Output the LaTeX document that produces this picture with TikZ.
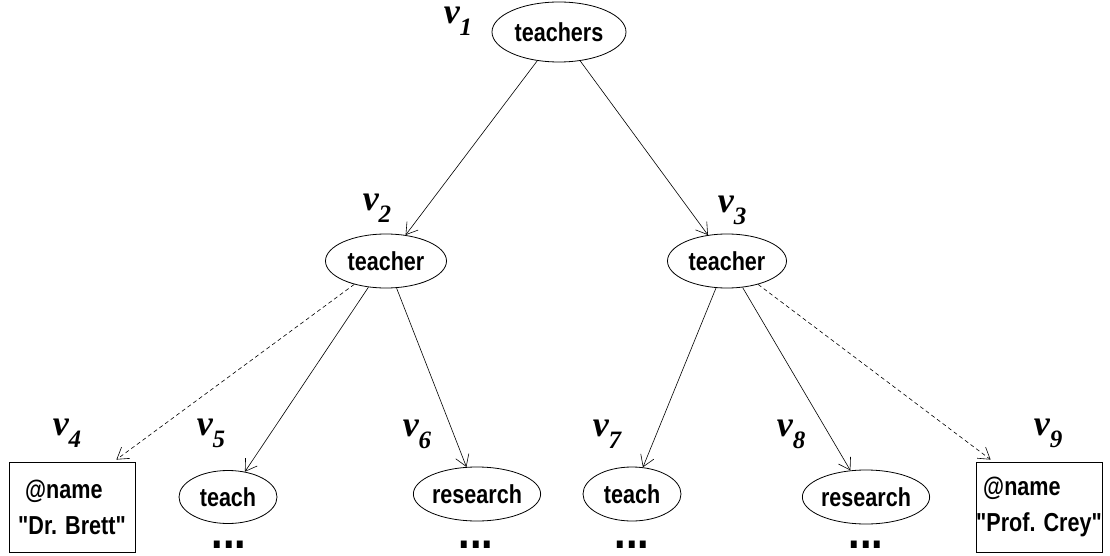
\documentclass[tikz,border=0pt]{standalone}
\usepackage{fontspec}
\setmainfont{Liberation Sans}[Ligatures=TeXOff, FakeStretch=0.83]
\newfontfamily\vfont{Liberation Serif}
\usetikzlibrary{arrows.meta,shapes.geometric}
\newcommand{\vlab}[1]{{\vfont\bfseries\itshape\fontsize{36}{36}\selectfont v\raisebox{-12pt}{\fontsize{25}{25}\selectfont #1}}}
\tikzset{
  el/.style={draw, ellipse, line width=0.8pt, inner sep=0pt, font=\bfseries\fontsize{26}{26}\selectfont},
  bx/.style={draw, rectangle, line width=0.8pt, minimum width=126pt, minimum height=90pt, inner sep=0pt, align=left, font=\bfseries\fontsize{26}{36}\selectfont},
  lab/.style={inner sep=0pt},
  dots/.style={inner sep=0pt, anchor=base, font=\bfseries\fontsize{50}{50}\selectfont},
  arr/.style={line width=0.6pt, -{Straight Barb[length=11pt,width=14pt,line width=0.6pt]}},
  darr/.style={arr, dashed, dash pattern=on 4pt off 3pt}
}
\begin{document}
\begin{tikzpicture}[x=1pt,y=-1pt]
\useasboundingbox (0,0) rectangle (1110,556);
\node[el, minimum width=134pt, minimum height=60pt] (n1) at (559,32) {teachers};
\node[el, minimum width=121pt, minimum height=54pt] (n2) at (386,261) {teacher};
\node[el, minimum width=119pt, minimum height=54pt] (n3) at (727,261) {teacher};
\node[bx] (n4) at (72,507) {\hspace*{7pt}@name\\"Dr. Brett"};
\node[el, minimum width=98pt, minimum height=53pt] (n5) at (228,497) {teach};
\node[el, minimum width=126pt, minimum height=54pt] (n6) at (477,494) {research};
\node[el, minimum width=98pt, minimum height=54pt] (n7) at (632,494) {teach};
\node[el, minimum width=125pt, minimum height=54pt] (n8) at (866,497) {research};
\node[bx] (n9) at (1039,507) {\hspace*{7pt}@name\\"Prof. Crey"};

\node[lab] (l1) at (458,21) {\vlab{1}};
\node[lab] (l2) at (377,208) {\vlab{2}};
\node[lab] (l3) at (732,210) {\vlab{3}};
\node[lab] (l4) at (67,433) {\vlab{4}};
\node[lab] (l5) at (211,433) {\vlab{5}};
\node[lab] (l6) at (417,434) {\vlab{6}};
\node[lab] (l7) at (607,434) {\vlab{7}};
\node[lab] (l8) at (791,434) {\vlab{8}};
\node[lab] (l9) at (1048,433) {\vlab{9}};

\node[dots] (d5) at (229,548) {...};
\node[dots] (d6) at (476,548) {...};
\node[dots] (d7) at (632,548) {...};
\node[dots] (d8) at (866,548) {...};

\coordinate (t4) at ([xshift=-19pt,yshift=2pt]n4.north east);
\coordinate (t9) at ([xshift=15pt,yshift=2pt]n9.north west);
\draw[arr] (n1) -- (n2);
\draw[arr] (n1) -- (n3);
\draw[arr] (n2) -- (n5);
\draw[arr] (n2) -- (n6);
\draw[darr] (n2) -- (t4);
\draw[arr] (n3) -- (n7);
\draw[arr] (n3) -- (n8);
\draw[darr] (n3) -- (t9);
\end{tikzpicture}
\end{document}
